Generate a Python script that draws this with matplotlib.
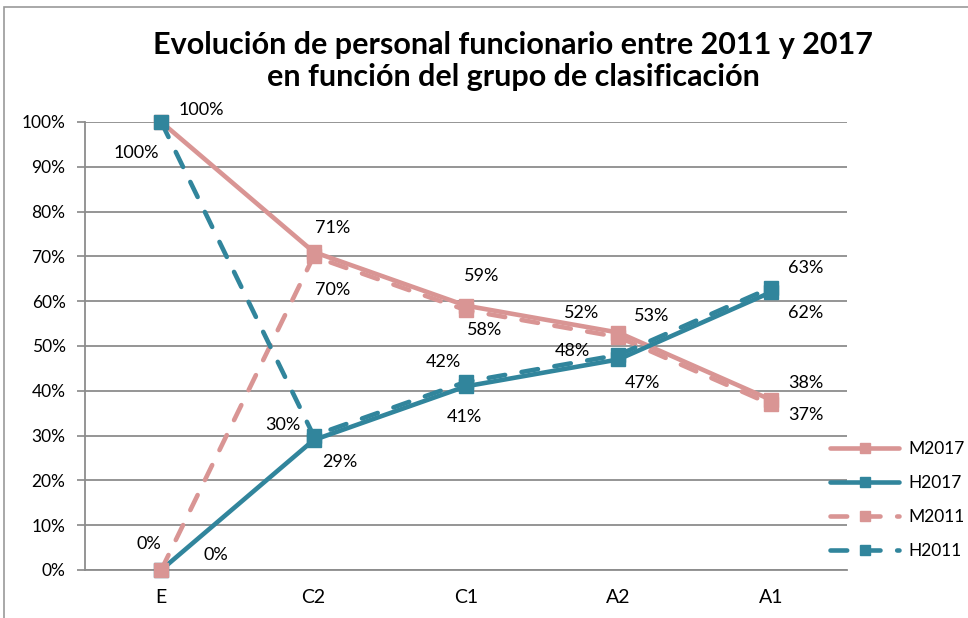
import matplotlib.pyplot as plt
from matplotlib.patches import Rectangle
from matplotlib.ticker import PercentFormatter

plt.rcParams['font.family'] = ['Lato', 'DejaVu Sans']
plt.rcParams['lines.scale_dashes'] = False

categories = ["E", "C2", "C1", "A2", "A1"]
m2017 = [100, 71, 59, 53, 38]
h2017 = [0, 29, 41, 47, 62]
m2011 = [0, 70, 58, 52, 37]
h2011 = [100, 30, 42, 48, 63]

pink = "#D99594"
teal = "#31859C"

# label offsets in pixels (dx, dy) per point
off_m2017 = [(40, 12), (19, 24), (16, 30), (33, 17), (35, 17)]
off_h2017 = [(55, 15), (26, -22), (-2, -31), (24, -24), (35, -21)]
off_m2011 = [(-12, 26), (19, -34), (19, -20), (-37, 24), (35, -11)]
off_h2011 = [(-25, -31), (-31, 11), (-23, 20), (-46, 4), (35, 20)]

fig = plt.figure(figsize=(9.68, 6.18), dpi=100)
ax = fig.add_axes([85 / 968, 1 - 570 / 618, 762 / 968, 448 / 618])

x = list(range(len(categories)))
series = [
    ("M2017", m2017, pink, "-", off_m2017),
    ("H2017", h2017, teal, "-", off_h2017),
    ("M2011", m2011, pink, "--", off_m2011),
    ("H2011", h2011, teal, "--", off_h2011),
]

for name, vals, col, ls, offs in series:
    line, = ax.plot(x, vals, color=col, lw=3.3, marker="s", markersize=10,
                    label=name, solid_capstyle="round", dash_capstyle="round",
                    clip_on=False, zorder=3)
    if ls == "--":
        line.set_dashes((12, 12))
    for xi, v, (dx, dy) in zip(x, vals, offs):
        ax.annotate(f"{v}%", (xi, v), xytext=(dx, dy), textcoords="offset pixels",
                    ha="center", va="center", fontsize=13, color="black", zorder=5)

ax.set_xlim(-0.5, 4.5)
ax.set_ylim(0, 100)
ax.set_xticks(x)
ax.set_xticklabels(categories, fontsize=14)
ax.set_yticks(range(0, 101, 10))
ax.yaxis.set_major_formatter(PercentFormatter(decimals=0))
ax.tick_params(axis="y", labelsize=12.5, length=6, color="#888888", width=1.2, pad=8)
ax.tick_params(axis="x", length=0, pad=14)
ax.grid(axis="y", color="#8c8c8c", lw=1.3)
ax.set_axisbelow(True)
for s in ["top", "right"]:
    ax.spines[s].set_visible(False)
for s in ["left", "bottom"]:
    ax.spines[s].set_color("#8c8c8c")
    ax.spines[s].set_linewidth(1.3)

fig.text(513 / 968, 1 - 61 / 618, "Evolución de personal funcionario entre 2011 y 2017\nen función del grupo de clasificación",
         ha="center", va="center", fontsize=22, fontweight="bold", linespacing=1.15)

fig.legend(loc="center left", bbox_to_anchor=(830 / 968, 1 - 500 / 618), frameon=False,
           fontsize=12.5, handlelength=4.0, labelspacing=1.05, handletextpad=0.5,
           borderpad=0, borderaxespad=0, markerscale=0.75)

fig.patches.append(Rectangle((4 / 968, -0.1), 1.2, 1 - 7 / 618 + 0.1, transform=fig.transFigure,
                             fill=False, edgecolor="#999999", lw=1.2))

fig.savefig("out.png", dpi=100)
